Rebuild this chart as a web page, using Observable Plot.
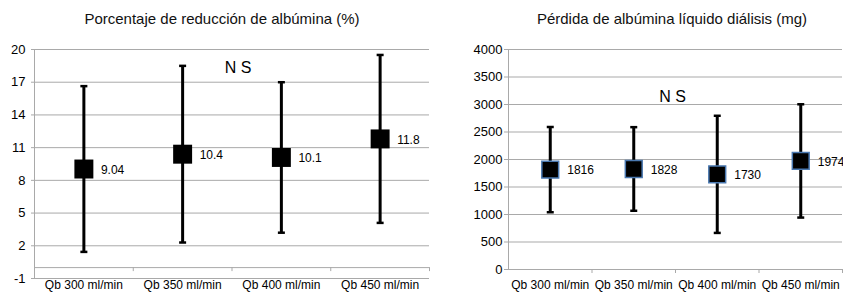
<!DOCTYPE html>
<html><head><meta charset="utf-8">
<script src="https://cdn.jsdelivr.net/npm/d3@7"></script>
<script src="https://cdn.jsdelivr.net/npm/@observablehq/plot@0.6"></script>
<style>
body{margin:0;background:#fff;width:843px;height:294px;overflow:hidden;position:relative;font-family:"Liberation Sans",Arial,Helvetica,sans-serif;}
.title{position:absolute;top:10px;font-size:15px;line-height:17px;white-space:nowrap;transform:translateX(-50%);color:#111;}
.panel{position:absolute;top:0;}
</style></head><body>
<div id="left" class="panel" style="left:0"></div>
<div id="right" class="panel" style="left:432px"></div>
<div class="title" style="left:222px">Porcentaje de reducción de albúmina (%)</div>
<div class="title" style="left:672px">Pérdida de albúmina líquido diálisis (mg)</div>
<script>
const categories = ["Qb 300 ml/min", "Qb 350 ml/min", "Qb 400 ml/min", "Qb 450 ml/min"];
const reductionMean = [9.04, 10.4, 10.1, 11.8];
const reductionSD = [7.6, 8.1, 6.9, 7.7];
const reductionLabels = ["9.04", "10.4", "10.1", "11.8"];
const reductionTicks = [-1, 2, 5, 8, 11, 14, 17, 20];
const lossMean = [1816, 1828, 1730, 1974];
const lossSD = [775, 760, 1065, 1030];
const lossLabels = ["1816", "1828", "1730", "1974"];
const lossTicks = [0, 500, 1000, 1500, 2000, 2500, 3000, 3500, 4000];
const annotation = "N S";

const GRAY = "#a9a9a9";
const cap = {draw(ctx) { ctx.rect(-3.5, -1.25, 7, 2.5); }};

function panel(o) {
  const rows = categories.map((c, i) => ({
    cat: c, pos: i + 0.5, mean: o.means[i],
    lo: o.means[i] - o.sds[i], hi: o.means[i] + o.sds[i], label: o.labels[i]
  }));
  return Plot.plot({
    width: o.width, height: 294,
    marginLeft: o.marginLeft, marginRight: o.marginRight,
    marginTop: 49, marginBottom: o.marginBottom,
    style: {fontFamily: '"Liberation Sans", Arial, sans-serif', fontSize: "12px", background: "transparent", color: "#000", overflow: "visible"},
    x: {domain: [0, 4], axis: null},
    y: {domain: o.yDomain, axis: null},
    marks: [
      Plot.gridY(o.ticks, {stroke: GRAY, strokeOpacity: 1}),
      Plot.axisY(o.ticks, {tickSize: o.tickSize, tickPadding: o.tickPadding, tickFormat: d => String(d), stroke: GRAY, strokeOpacity: 1, fontSize: 13, fill: "#000"}),
      Plot.ruleX([0], {stroke: GRAY}),
      Plot.ruleY([0], {stroke: GRAY}),
      Plot.ruleX([1, 2, 3, 4], {y1: 0, y2: 0, insetTop: 4, stroke: GRAY}),
      Plot.ruleX(rows, {x: "pos", y1: "lo", y2: "hi", stroke: "#000", strokeWidth: 3}),
      Plot.dot(rows, {x: "pos", y: "hi", symbol: cap, fill: "#000", stroke: "none"}),
      Plot.dot(rows, {x: "pos", y: "lo", symbol: cap, fill: "#000", stroke: "none"}),
      Plot.dot(rows, {x: "pos", y: "mean", symbol: "square", r: o.squareR, fill: "#000", stroke: o.squareStroke, strokeWidth: 1.5}),
      Plot.text(rows, {x: "pos", y: "mean", text: "label", textAnchor: "start", dx: 17, dy: 1, fontSize: 12, fill: "#000"}),
      Plot.text([annotation], {frameAnchor: "top", text: d => d, dx: o.nsDx, dy: o.nsDy, fontSize: 16, fill: "#000"}),
      Plot.text(rows, {x: "pos", text: "cat", frameAnchor: "bottom", dy: o.catDy, fontSize: 12, fill: "#000"})
    ]
  });
}

document.getElementById("left").append(panel({
  width: 432, marginLeft: 34, marginRight: 3, marginBottom: 16,
  yDomain: [-1, 20], ticks: reductionTicks, tickSize: 3, tickPadding: 6,
  means: reductionMean, sds: reductionSD, labels: reductionLabels,
  squareR: 10.7, squareStroke: "none", nsDx: 6, nsDy: 12, catDy: 10
}));
document.getElementById("right").append(panel({
  width: 411, marginLeft: 76, marginRight: 1, marginBottom: 25,
  yDomain: [0, 4000], ticks: lossTicks, tickSize: 4, tickPadding: 2,
  means: lossMean, sds: lossSD, labels: lossLabels,
  squareR: 9.5, squareStroke: "#4a78b0", nsDx: -3, nsDy: 41, catDy: 19
}));
</script>
</body></html>
